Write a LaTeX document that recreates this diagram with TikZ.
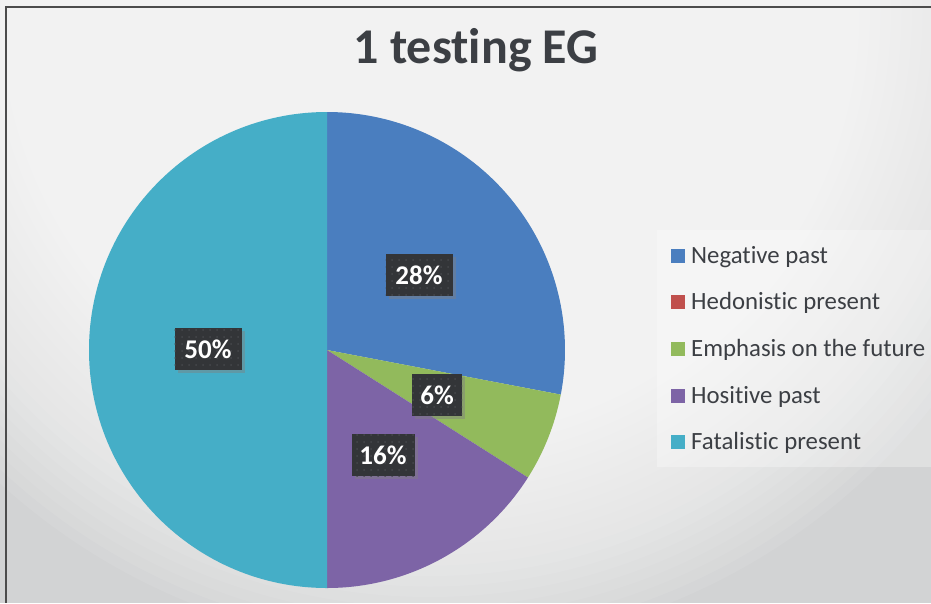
\documentclass[tikz,border=0pt]{standalone}
\usepackage{fontspec}
\setmainfont{Carlito}[Ligatures=NoCommon, Contextuals=NoAlternate, RawFeature={-clig;-dlig}]
\usetikzlibrary{shadows,patterns.meta}
\definecolor{bggray}{HTML}{D2D3D4}
\definecolor{npcol}{HTML}{4A7EBF}
\definecolor{hpcol}{HTML}{C0504D}
\definecolor{efcol}{HTML}{92BA5C}
\definecolor{hocol}{HTML}{7D64A6}
\definecolor{fpcol}{HTML}{45AEC7}
\definecolor{txtcol}{HTML}{3C3F44}
\definecolor{boxcol}{HTML}{333538}
\definecolor{dotcol}{HTML}{46484C}
\tikzset{
  lbl/.style={fill=boxcol, text=white, font=\fontsize{27}{27}\selectfont\bfseries,
    minimum height=42pt, inner sep=0pt,
    drop shadow={shadow xshift=3pt, shadow yshift=-3pt, opacity=0.45},
    postaction={pattern={Dots[distance=7pt,radius=1pt]}, pattern color=dotcol}},
  legsq/.style={minimum size=14pt, inner sep=0pt},
  legtxt/.style={anchor=base west, text=txtcol, inner sep=0pt, font=\fontsize{24.8}{25}\selectfont},
}
\begin{document}
\begin{tikzpicture}[x=1pt,y=1pt]
\useasboundingbox (0,0) rectangle (931,-603);
\begin{scope}
\clip (0,0) rectangle (931,-603);
\fill[bggray] (0,0) rectangle (931,-603);
\foreach \i in {0,...,39} {
  \fill[white, opacity=0.075] (430,-10) circle ({230+\i*10.5});
}
\end{scope}
% frame
\draw[line width=1.6pt, color=black!70] (931,-7) -- (6,-7) -- (6,-603);
% title
\node[anchor=base, text=txtcol, inner sep=0pt, font=\fontsize{50}{50}\selectfont\bfseries] (title) at (476,-63) {1 testing EG};
% pie
\coordinate (c) at (327,-350);
\fill[npcol] (c) -- ++(90:238) arc[start angle=90, end angle=-10.8, radius=238] -- cycle;
\fill[efcol] (c) -- ++(-10.8:238) arc[start angle=-10.8, end angle=-32.4, radius=238] -- cycle;
\fill[hocol] (c) -- ++(-32.4:238) arc[start angle=-32.4, end angle=-90, radius=238] -- cycle;
\fill[fpcol] (c) -- ++(-90:238) arc[start angle=-90, end angle=-270, radius=238] -- cycle;
% data labels
\node[lbl, minimum width=67pt] (l28) at (419,-275) {28\%};
\node[lbl, minimum width=50pt] (l6) at (437,-395) {6\%};
\node[lbl, minimum width=63pt] (l16) at (383,-455) {16\%};
\node[lbl, minimum width=67pt] (l50) at (208,-349) {50\%};
% legend
\fill[white, opacity=0.3] (657,-230) rectangle (931,-467);
\node[legsq, fill=npcol] (s1) at (678,-255.5) {};
\node[legsq, fill=hpcol] (s2) at (678,-301.5) {};
\node[legsq, fill=efcol] (s3) at (678,-348.5) {};
\node[legsq, fill=hocol] (s4) at (678,-396) {};
\node[legsq, fill=fpcol] (s5) at (678,-442) {};
\node[legtxt] (t1) at (691,-263) {Negative past};
\node[legtxt] (t2) at (691,-309) {Hedonistic present};
\node[legtxt] (t3) at (691,-356) {Emphasis on the future};
\node[legtxt] (t4) at (691,-403.5) {Hositive past};
\node[legtxt] (t5) at (691,-449.5) {Fatalistic present};
\end{tikzpicture}
\end{document}
